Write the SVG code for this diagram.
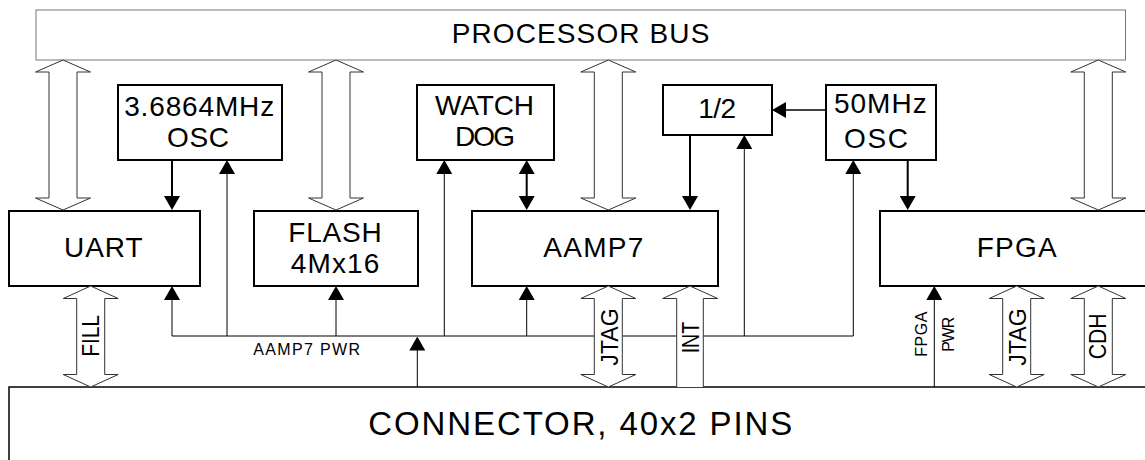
<svg xmlns="http://www.w3.org/2000/svg" width="1145" height="460" viewBox="0 0 1145 460">
<style>
.box{fill:#fff;stroke:#000;stroke-width:2}
.bus{fill:#fff;stroke:#777;stroke-width:1}
.t{font-family:"Liberation Sans",Arial,Helvetica,sans-serif;fill:#000;text-anchor:middle}
.big{font-size:28px}
.sm{font-size:16px}
.rl{font-size:24px}
.thin{fill:none;stroke:#000;stroke-width:1}
.thick{fill:none;stroke:#000;stroke-width:2}
.hol{fill:#fff;stroke:#333;stroke-width:1}
</style>
<defs>
<marker id="ah" markerUnits="userSpaceOnUse" markerWidth="14" markerHeight="16" viewBox="0 0 14 16" refX="11" refY="8" orient="auto-start-reverse"><path d="M0,0 L14,8 L0,16 z" fill="#000"/></marker>
</defs>
<rect width="1145" height="460" fill="#fff"/>

<g id="processor-bus">
<rect class="bus" x="36" y="10" width="1089.5" height="50"/>
<text class="t" style="font-size:28px" x="580.5" y="43.3" textLength="257.7">PROCESSOR BUS</text>
</g>
<g id="connector">
<rect x="9" y="387" width="1200" height="100" fill="#fff" stroke="#000" stroke-width="1.5"/>
<text class="t" style="font-size:33px" x="580.3" y="435" textLength="424">CONNECTOR, 40x2 PINS</text>
</g>
<g id="osc-3686">
<rect class="box" x="118" y="85" width="164" height="75"/>
<text class="t big" x="199.2" y="115.7" textLength="150">3.6864MHz</text>
<text class="t big" x="198" y="146.7" textLength="62">OSC</text>
</g>
<g id="watchdog">
<rect class="box" x="417" y="85" width="137" height="75"/>
<text class="t big" x="484.5" y="115" textLength="99">WATCH</text>
<text class="t big" x="485" y="145.7" textLength="60">DOG</text>
</g>
<g id="div2">
<rect class="box" x="663" y="85" width="109" height="50"/>
<text class="t big" x="717.2" y="118.3" textLength="37.7">1/2</text>
</g>
<g id="osc-50">
<rect class="box" x="826" y="85" width="110" height="75"/>
<text class="t big" x="880.3" y="113.3" textLength="92.7">50MHz</text>
<text class="t big" x="876" y="147.7" textLength="64">OSC</text>
</g>
<g id="uart">
<rect class="box" x="9" y="211" width="191" height="75"/>
<text class="t big" x="103.3" y="256.7" textLength="78.7">UART</text>
</g>
<g id="flash">
<rect class="box" x="254" y="211" width="164" height="75"/>
<text class="t big" x="335" y="241.7" textLength="93.3">FLASH</text>
<text class="t big" x="335" y="273.3" textLength="88.7">4Mx16</text>
</g>
<g id="aamp7">
<rect class="box" x="472" y="211" width="246" height="75"/>
<text class="t big" x="593.3" y="256.7" textLength="100">AAMP7</text>
</g>
<g id="fpga">
<rect class="box" x="880" y="211" width="300" height="75"/>
<text class="t big" x="1016.7" y="256.7" textLength="80">FPGA</text>
</g>

<g id="connectors">
<path class="thin" d="M172,336 H853.3"/>
<path class="thick" d="M172,160 V207" marker-end="url(#ah)"/>
<path class="thin" d="M172,336 V289" marker-end="url(#ah)"/>
<path class="thin" d="M227,336 V163" marker-end="url(#ah)"/>
<path class="thin" d="M336,336 V289" marker-end="url(#ah)"/>
<path class="thin" d="M417.3,387 V339.5" marker-end="url(#ah)"/>
<path class="thin" d="M444.3,336 V163" marker-end="url(#ah)"/>
<path class="thick" d="M526.7,163 V207" marker-start="url(#ah)" marker-end="url(#ah)"/>
<path class="thin" d="M526.7,336 V289" marker-end="url(#ah)"/>
<path class="thick" d="M690,135 V207" marker-end="url(#ah)"/>
<path class="thin" d="M744.3,336 V138" marker-end="url(#ah)"/>
<path fill="none" stroke="#000" stroke-width="1.5" d="M826,110 H775" marker-end="url(#ah)"/>
<path class="thin" d="M853.3,336 V163" marker-end="url(#ah)"/>
<path class="thick" d="M907.7,160 V207" marker-end="url(#ah)"/>
<path class="thin" d="M934.3,387 V289" marker-end="url(#ah)"/>

<polygon class="hol" points="63,60 90.5,72 77,72 77,198 90.5,198 63,210 35.5,198 49,198 49,72 35.5,72"/>
<polygon class="hol" points="336,60 363.5,72 350,72 350,198 363.5,198 336,210 308.5,198 322,198 322,72 308.5,72"/>
<polygon class="hol" points="608.3,60 635.8,72 622.3,72 622.3,198 635.8,198 608.3,210 580.8,198 594.3,198 594.3,72 580.8,72"/>
<polygon class="hol" points="1098.3,60 1125.8,72 1112.3,72 1112.3,198 1125.8,198 1098.3,210 1070.8,198 1084.3,198 1084.3,72 1070.8,72"/>

<polygon class="hol" points="90.7,286 118.2,298.5 104.7,298.5 104.7,374.5 118.2,374.5 90.7,387 63.2,374.5 76.7,374.5 76.7,298.5 63.2,298.5"/>
<polygon class="hol" points="608.3,286 635.8,298.5 622.3,298.5 622.3,374.5 635.8,374.5 608.3,387 580.8,374.5 594.3,374.5 594.3,298.5 580.8,298.5"/>
<path class="hol" d="M676.7,387 V298.5 H662.7 L690,286 L717.7,298.5 H703.3 V387"/>
<polygon class="hol" points="1016.7,286 1044.2,298.5 1030.7,298.5 1030.7,374.5 1044.2,374.5 1016.7,387 989.2,374.5 1002.7,374.5 1002.7,298.5 989.2,298.5"/>
<polygon class="hol" points="1098.3,286 1125.8,298.5 1112.3,298.5 1112.3,374.5 1125.8,374.5 1098.3,387 1070.8,374.5 1084.3,374.5 1084.3,298.5 1070.8,298.5"/>

<text class="t sm" style="text-anchor:start" x="253.3" y="355" textLength="106.7">AAMP7 PWR</text>
<text class="t sm" transform="translate(927,334.2) rotate(-90)" textLength="45">FPGA</text>
<text class="t sm" transform="translate(953.5,334.2) rotate(-90)" textLength="35">PWR</text>
<text class="t rl" transform="translate(99,336) rotate(-90)" textLength="41.7" lengthAdjust="spacingAndGlyphs">FILL</text>
<text class="t rl" transform="translate(617.8,337) rotate(-90)" textLength="57.3" lengthAdjust="spacingAndGlyphs">JTAG</text>
<text class="t rl" transform="translate(698.8,337.5) rotate(-90)" textLength="31.7" lengthAdjust="spacingAndGlyphs">INT</text>
<text class="t rl" transform="translate(1025.5,337) rotate(-90)" textLength="57.3" lengthAdjust="spacingAndGlyphs">JTAG</text>
<text class="t rl" transform="translate(1105.5,336.3) rotate(-90)" textLength="46" lengthAdjust="spacingAndGlyphs">CDH</text>
</g>
</svg>
